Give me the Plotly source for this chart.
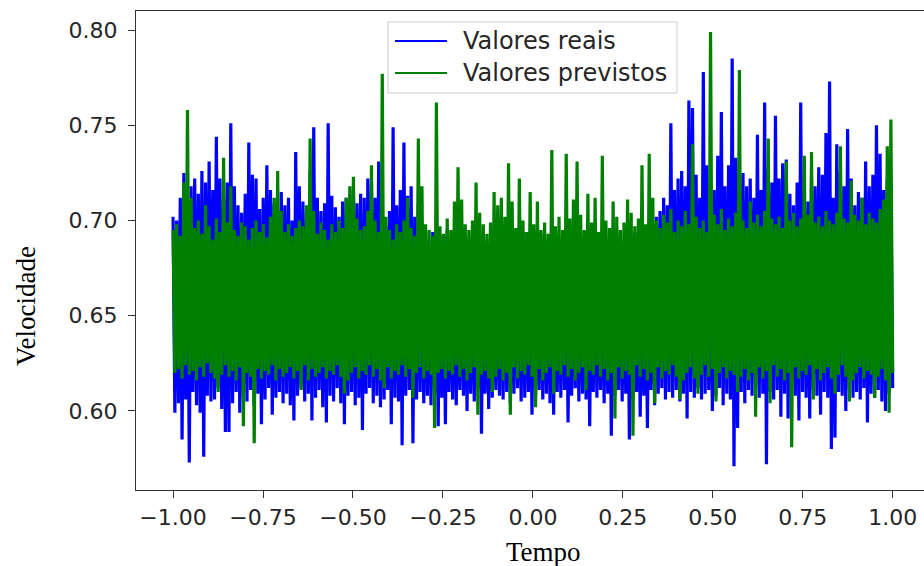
import numpy as np
import plotly.graph_objects as go

# ---- data (alternating local maxima / minima along time) ----
reais_altos = [
    0.702, 0.700, 0.712, 0.725, 0.705, 0.718, 0.722, 0.714, 0.726, 0.720,
    0.731, 0.716, 0.744, 0.722, 0.712, 0.720, 0.751, 0.718, 0.708, 0.704,
    0.714, 0.741, 0.724, 0.722, 0.706, 0.712, 0.729, 0.716, 0.709, 0.703,
    0.715, 0.708, 0.712, 0.700, 0.736, 0.718, 0.710, 0.706, 0.726, 0.749,
    0.712, 0.705, 0.709, 0.751, 0.713, 0.707, 0.702, 0.710, 0.712, 0.706,
    0.717, 0.709, 0.714, 0.712, 0.722, 0.719, 0.712, 0.731, 0.700, 0.697,
    0.705, 0.749, 0.708, 0.716, 0.741, 0.713, 0.718, 0.702, 0.709, 0.698,
    0.690, 0.686, 0.694, 0.688, 0.692, 0.684, 0.695, 0.689, 0.691, 0.687,
    0.693, 0.685, 0.690, 0.688, 0.694, 0.686, 0.692, 0.689, 0.683, 0.691,
    0.687, 0.693, 0.685, 0.690, 0.688, 0.692, 0.686, 0.694, 0.689, 0.684,
    0.691, 0.687, 0.693, 0.685, 0.690, 0.688, 0.692, 0.686, 0.694, 0.689,
    0.684, 0.691, 0.687, 0.693, 0.685, 0.690, 0.688, 0.698, 0.686, 0.692,
    0.689, 0.685, 0.691, 0.687, 0.693, 0.684, 0.690, 0.688, 0.694, 0.686,
    0.692, 0.689, 0.695, 0.698, 0.702, 0.705, 0.712, 0.708, 0.751, 0.716,
    0.722, 0.726, 0.718, 0.763, 0.759, 0.724, 0.712, 0.778, 0.729, 0.708,
    0.716, 0.734, 0.757, 0.718, 0.729, 0.785, 0.733, 0.730, 0.725, 0.718,
    0.722, 0.712, 0.745, 0.716, 0.762, 0.727, 0.720, 0.755, 0.722, 0.730,
    0.732, 0.714, 0.708, 0.720, 0.762, 0.716, 0.710, 0.722, 0.718, 0.728,
    0.724, 0.746, 0.773, 0.712, 0.740, 0.726, 0.718, 0.748, 0.722, 0.708,
    0.715, 0.712, 0.731, 0.718, 0.724, 0.750, 0.735, 0.716, 0.722, 0.712,
]
reais_baixos = [
    0.599, 0.604, 0.585, 0.606, 0.573, 0.610, 0.603, 0.599, 0.576, 0.608,
    0.605, 0.606, 0.612, 0.601, 0.589, 0.589, 0.604, 0.610, 0.599, 0.607,
    0.605, 0.611, 0.603, 0.609, 0.593, 0.606, 0.612, 0.598, 0.607, 0.610,
    0.604, 0.609, 0.603, 0.595, 0.608, 0.612, 0.605, 0.609, 0.595, 0.607,
    0.611, 0.602, 0.594, 0.608, 0.605, 0.612, 0.604, 0.593, 0.608, 0.610,
    0.603, 0.607, 0.590, 0.609, 0.612, 0.604, 0.608, 0.602, 0.606, 0.611,
    0.593, 0.607, 0.605, 0.582, 0.608, 0.611, 0.583, 0.606, 0.610, 0.604,
    0.608, 0.603, 0.609, 0.592, 0.607, 0.593, 0.610, 0.606, 0.603, 0.611,
    0.608, 0.600, 0.609, 0.605, 0.612, 0.588, 0.609, 0.601, 0.607, 0.611,
    0.608, 0.606, 0.610, 0.604, 0.609, 0.612, 0.605, 0.607, 0.610, 0.598,
    0.608, 0.611, 0.606, 0.609, 0.604, 0.598, 0.610, 0.607, 0.611, 0.594,
    0.608, 0.612, 0.605, 0.609, 0.606, 0.592, 0.610, 0.607, 0.611, 0.604,
    0.609, 0.587, 0.608, 0.611, 0.605, 0.609, 0.585, 0.607, 0.610, 0.597,
    0.608, 0.591, 0.611, 0.603, 0.609, 0.612, 0.606, 0.610, 0.607, 0.611,
    0.605, 0.609, 0.596, 0.610, 0.607, 0.612, 0.606, 0.609, 0.611, 0.600,
    0.608, 0.612, 0.603, 0.609, 0.606, 0.571, 0.591, 0.610, 0.604, 0.611,
    0.608, 0.612, 0.607, 0.609, 0.572, 0.610, 0.606, 0.611, 0.597, 0.609,
    0.596, 0.611, 0.608, 0.595, 0.610, 0.607, 0.596, 0.611, 0.608, 0.598,
    0.610, 0.607, 0.580, 0.586, 0.610, 0.608, 0.600, 0.611, 0.607, 0.610,
    0.606, 0.612, 0.594, 0.609, 0.607, 0.611, 0.605, 0.600, 0.609, 0.612,
]
previstos_altos = [
    0.695, 0.698, 0.692, 0.720, 0.758, 0.712, 0.696, 0.700, 0.693, 0.708,
    0.697, 0.690, 0.701, 0.694, 0.733, 0.699, 0.718, 0.695, 0.692, 0.699,
    0.697, 0.690, 0.696, 0.700, 0.694, 0.698, 0.691, 0.702, 0.712, 0.726,
    0.705, 0.694, 0.698, 0.692, 0.696, 0.700, 0.697, 0.708, 0.743, 0.705,
    0.693, 0.699, 0.695, 0.690, 0.698, 0.694, 0.700, 0.696, 0.712, 0.718,
    0.723, 0.701, 0.695, 0.697, 0.705, 0.729, 0.700, 0.694, 0.777, 0.702,
    0.695, 0.690, 0.698, 0.694, 0.700, 0.712, 0.696, 0.692, 0.743, 0.718,
    0.698, 0.695, 0.692, 0.762, 0.697, 0.693, 0.701, 0.695, 0.710, 0.728,
    0.711, 0.698, 0.695, 0.700, 0.720, 0.704, 0.698, 0.693, 0.699, 0.715,
    0.708, 0.712, 0.702, 0.730, 0.710, 0.696, 0.722, 0.700, 0.694, 0.715,
    0.698, 0.710, 0.695, 0.699, 0.693, 0.737, 0.697, 0.702, 0.695, 0.735,
    0.701, 0.711, 0.731, 0.703, 0.695, 0.714, 0.699, 0.712, 0.694, 0.734,
    0.700, 0.696, 0.710, 0.702, 0.695, 0.699, 0.711, 0.704, 0.697, 0.701,
    0.729, 0.698, 0.735, 0.712, 0.700, 0.696, 0.703, 0.699, 0.706, 0.694,
    0.700, 0.697, 0.705, 0.698, 0.740, 0.702, 0.696, 0.700, 0.694, 0.799,
    0.703, 0.698, 0.706, 0.695, 0.701, 0.697, 0.704, 0.779, 0.700, 0.696,
    0.710, 0.699, 0.703, 0.697, 0.705, 0.743, 0.701, 0.698, 0.702, 0.696,
    0.731, 0.700, 0.704, 0.697, 0.701, 0.734, 0.703, 0.736, 0.699, 0.702,
    0.697, 0.705, 0.700, 0.698, 0.704, 0.739, 0.701, 0.699, 0.721, 0.703,
    0.700, 0.712, 0.698, 0.704, 0.701, 0.699, 0.706, 0.711, 0.739, 0.753,
]
previstos_baixos = [
    0.620, 0.622, 0.617, 0.624, 0.619, 0.621, 0.616, 0.623, 0.618, 0.625,
    0.620, 0.617, 0.610, 0.619, 0.624, 0.618, 0.621, 0.616, 0.623, 0.592,
    0.620, 0.618, 0.583, 0.622, 0.617, 0.621, 0.619, 0.624, 0.616, 0.622,
    0.618, 0.620, 0.623, 0.617, 0.621, 0.611, 0.624, 0.616, 0.622, 0.618,
    0.620, 0.623, 0.617, 0.621, 0.619, 0.624, 0.618, 0.609, 0.616, 0.620,
    0.623, 0.617, 0.621, 0.619, 0.624, 0.618, 0.622, 0.616, 0.612, 0.623,
    0.617, 0.621, 0.619, 0.624, 0.618, 0.622, 0.607, 0.620, 0.623, 0.617,
    0.621, 0.619, 0.591, 0.620, 0.622, 0.617, 0.621, 0.619, 0.624, 0.618,
    0.622, 0.616, 0.620, 0.623, 0.598, 0.619, 0.621, 0.617, 0.610, 0.618,
    0.622, 0.616, 0.620, 0.598, 0.623, 0.617, 0.621, 0.619, 0.624, 0.618,
    0.602, 0.622, 0.616, 0.620, 0.623, 0.609, 0.621, 0.619, 0.624, 0.618,
    0.622, 0.616, 0.620, 0.623, 0.611, 0.621, 0.619, 0.624, 0.618, 0.622,
    0.616, 0.620, 0.596, 0.623, 0.617, 0.621, 0.619, 0.587, 0.624, 0.618,
    0.622, 0.616, 0.620, 0.604, 0.623, 0.617, 0.621, 0.619, 0.624, 0.618,
    0.606, 0.616, 0.620, 0.623, 0.617, 0.609, 0.619, 0.624, 0.618, 0.622,
    0.605, 0.620, 0.623, 0.617, 0.621, 0.619, 0.610, 0.618, 0.622, 0.616,
    0.620, 0.597, 0.623, 0.617, 0.621, 0.604, 0.624, 0.618, 0.622, 0.616,
    0.620, 0.581, 0.623, 0.617, 0.621, 0.619, 0.624, 0.606, 0.622, 0.616,
    0.620, 0.623, 0.617, 0.609, 0.619, 0.624, 0.618, 0.605, 0.616, 0.620,
    0.623, 0.617, 0.621, 0.619, 0.607, 0.618, 0.622, 0.616, 0.599, 0.620,
]

nome_reais = "Valores reais"
nome_previstos = "Valores previstos"
titulo_x = "Tempo"
titulo_y = "Velocidade"
ticks_x = [-1.0, -0.75, -0.5, -0.25, 0.0, 0.25, 0.5, 0.75, 1.0]
ticks_y = [0.60, 0.65, 0.70, 0.75, 0.80]

# interleave maxima/minima into the time series
reais = [v for par in zip(reais_altos, reais_baixos) for v in par]
previstos = [v for par in zip(previstos_altos, previstos_baixos) for v in par]
tempo = np.linspace(-1.0, 1.0, len(reais))

AZUL = "#0000ff"
VERDE = "#008000"

fig = go.Figure()
fig.add_trace(go.Scatter(x=tempo, y=reais, mode="lines", name=nome_reais,
                         line=dict(color=AZUL, width=3.2, simplify=False), showlegend=False))
fig.add_trace(go.Scatter(x=tempo, y=previstos, mode="lines", name=nome_previstos,
                         line=dict(color=VERDE, width=3.2, simplify=False), showlegend=False))

W, H = 924, 566
L, T, R, B = 136, 11, 924, 490
pw, ph = R - L, B - T


def px(xp):
    return (xp - L) / pw


def py(yp):
    return (B - yp) / ph


tick_font = dict(family="DejaVu Sans", size=22, color="#262626")

fig.update_layout(
    width=W, height=H,
    margin=dict(l=L, r=W - R, t=T, b=H - B),
    paper_bgcolor="white", plot_bgcolor="white",
    xaxis=dict(range=[-1.103, 1.087], tickvals=ticks_x, tickformat=".2f",
               showgrid=False, zeroline=False, showline=True, linecolor="#333333",
               linewidth=1.3, mirror=True, ticks="outside", ticklen=7, tickwidth=1.3,
               tickcolor="#333333", tickfont=tick_font),
    yaxis=dict(range=[0.5585, 0.8100], tickvals=ticks_y, tickformat=".2f",
               showgrid=False, zeroline=False, showline=True, linecolor="#333333",
               linewidth=1.3, mirror=False, ticks="outside", ticklen=7, tickwidth=1.3,
               tickcolor="#333333", tickfont=tick_font, ticklabelstandoff=6),
    showlegend=False,
)

# legend box drawn manually
shapes = [
    dict(type="rect", xref="paper", yref="paper", x0=px(388), x1=px(677), y0=py(93), y1=py(22),
         fillcolor="rgba(255,255,255,0.85)", line=dict(color="#cccccc", width=1), layer="above"),
    dict(type="line", xref="paper", yref="paper", x0=px(395), x1=px(447), y0=py(41), y1=py(41),
         line=dict(color=AZUL, width=2.2), layer="above"),
    dict(type="line", xref="paper", yref="paper", x0=px(395), x1=px(447), y0=py(73), y1=py(73),
         line=dict(color=VERDE, width=2.2), layer="above"),
]
fig.update_layout(shapes=shapes)

leg_font = dict(family="DejaVu Sans", size=24, color="#262626")
annotations = [
    dict(text=nome_reais, xref="paper", yref="paper", x=px(461), y=py(41),
         xanchor="left", yanchor="middle", showarrow=False, font=leg_font),
    dict(text=nome_previstos, xref="paper", yref="paper", x=px(461), y=py(73),
         xanchor="left", yanchor="middle", showarrow=False, font=leg_font),
    dict(text=titulo_x, xref="paper", yref="paper", x=px(543), y=py(552),
         xanchor="center", yanchor="middle", showarrow=False,
         font=dict(family="Liberation Serif", size=27, color="black")),
    dict(text=titulo_y, xref="paper", yref="paper", x=px(26), y=py(306),
         xanchor="center", yanchor="middle", showarrow=False, textangle=-90,
         font=dict(family="Liberation Serif", size=27, color="black")),
]
fig.update_layout(annotations=annotations)

fig.write_html("out.html", config={"displayModeBar": False},
               post_script="document.body.style.margin='0';")
